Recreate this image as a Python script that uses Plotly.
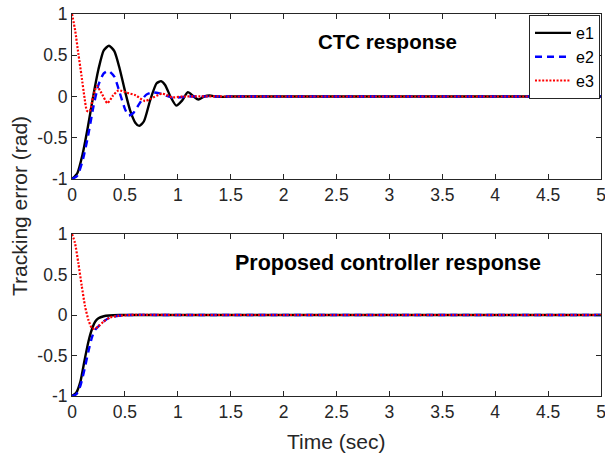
import plotly.graph_objects as go

# ---------------- data ----------------
# Top panel: CTC response
t_ctc_e1 = [0, 0.05, 0.1, 0.15, 0.2, 0.25, 0.3, 0.35, 0.4, 0.45, 0.5, 0.55, 0.6, 0.636,
            0.68, 0.74, 0.8, 0.842, 0.88, 0.93, 0.985, 1.04, 1.095, 1.15, 1.195, 1.25,
            1.3, 1.36, 1.42, 1.5, 2.0, 3.0, 4.0, 5.0]
ctc_e1 = [-1, -0.93, -0.7, -0.37, 0.0, 0.33, 0.56, 0.615, 0.55, 0.34, 0.07, -0.17, -0.32, -0.356,
          -0.3, -0.04, 0.16, 0.186, 0.14, 0.0, -0.11, -0.05, 0.053, 0.0, -0.037, 0.0,
          0.012, 0.0, -0.005, 0.0, 0.0, 0.0, 0.0, 0.0]

t_ctc_e2 = [0, 0.05, 0.1, 0.15, 0.2, 0.25, 0.3, 0.345, 0.4, 0.45, 0.5, 0.535, 0.58, 0.64,
            0.7, 0.76, 0.82, 0.88, 0.95, 1.02, 1.1, 1.5, 2.0, 3.0, 4.0, 5.0]
ctc_e2 = [-1, -0.96, -0.78, -0.49, -0.14, 0.14, 0.28, 0.31, 0.24, 0.05, -0.15, -0.23, -0.2, -0.08,
          0.02, 0.05, 0.04, 0.015, -0.015, -0.01, 0.0, 0.0, 0.0, 0.0, 0.0, 0.0]

t_ctc_e3 = [0, 0.03, 0.06, 0.09, 0.12, 0.14, 0.155, 0.17, 0.2, 0.235, 0.28, 0.335, 0.39,
            0.44, 0.52, 0.6, 0.69, 0.74, 0.85, 0.95, 1.05, 1.5, 2.0, 3.0, 4.0, 5.0]
ctc_e3 = [1, 0.8, 0.52, 0.25, -0.03, -0.17, -0.18, -0.17, 0.0, 0.125, 0.04, -0.08, 0.015,
          0.075, 0.045, 0.015, -0.055, -0.03, 0.035, -0.01, 0.0, 0.0, 0.0, 0.0, 0.0, 0.0]

# Bottom panel: proposed controller response
t_pc_e1 = [0, 0.04, 0.08, 0.12, 0.155, 0.19, 0.22, 0.25, 0.3, 0.35, 0.45, 1.0, 2.0, 3.0, 4.0, 5.0]
pc_e1 = [-1, -0.96, -0.82, -0.55, -0.33, -0.17, -0.08, -0.04, -0.015, -0.006, 0.0, 0.0, 0.0, 0.0, 0.0, 0.0]

t_pc_e2 = [0, 0.04, 0.08, 0.12, 0.155, 0.19, 0.22, 0.25, 0.28, 0.345, 0.44, 0.55, 1.0, 2.0, 3.0, 4.0, 5.0]
pc_e2 = [-1, -0.98, -0.87, -0.66, -0.45, -0.27, -0.18, -0.14, -0.1, -0.04, -0.01, 0.0, 0.0, 0.0, 0.0, 0.0, 0.0]

t_pc_e3 = [0, 0.028, 0.06, 0.092, 0.123, 0.155, 0.187, 0.212, 0.25, 0.3, 0.36, 0.44, 0.55, 1.0, 2.0, 3.0, 4.0, 5.0]
pc_e3 = [1, 0.89, 0.64, 0.36, 0.11, -0.06, -0.16, -0.17, -0.14, -0.08, -0.03, -0.01, 0.0, 0.0, 0.0, 0.0, 0.0, 0.0]

x_ticks = [0, 0.5, 1, 1.5, 2, 2.5, 3, 3.5, 4, 4.5, 5]
x_tick_labels = ["0", "0.5", "1", "1.5", "2", "2.5", "3", "3.5", "4", "4.5", "5"]
y_ticks = [-1, -0.5, 0, 0.5, 1]
y_tick_labels = ["-1", "-0.5", "0", "0.5", "1"]

series_names = ["e1", "e2", "e3"]
panel_titles = ["CTC response", "Proposed controller response"]

# ---------------- styling ----------------
FONT = "Liberation Sans, Arial, sans-serif"
AX = "#262626"
styles = [
    dict(color="#000000", width=2.4, dash="solid"),
    dict(color="#0000ff", width=2.4, dash="7px,5px"),
    dict(color="#ff0000", width=2.2, dash="2px,1.6px"),
]

fig = go.Figure()

top = [(t_ctc_e1, ctc_e1), (t_ctc_e2, ctc_e2), (t_ctc_e3, ctc_e3)]
bot = [(t_pc_e1, pc_e1), (t_pc_e2, pc_e2), (t_pc_e3, pc_e3)]

for i, (tt, yy) in enumerate(top):
    fig.add_trace(go.Scatter(x=tt, y=yy, mode="lines", name=series_names[i],
                             line=dict(shape="spline", smoothing=0.6, simplify=False, **styles[i]),
                             xaxis="x", yaxis="y", showlegend=True,
                             legendgroup=series_names[i]))
for i, (tt, yy) in enumerate(bot):
    fig.add_trace(go.Scatter(x=tt, y=yy, mode="lines", name=series_names[i],
                             line=dict(shape="spline", smoothing=0.6, simplify=False, **styles[i]),
                             xaxis="x2", yaxis="y2", showlegend=False,
                             legendgroup=series_names[i]))

L, R, T, B = 72, 4, 14, 59
W, H = 605, 455
plot_h = H - T - B
top_dom = [(396 - 179) / plot_h, 1.0]
bot_dom = [0.0, (396 - 234) / plot_h]

common_x = dict(range=[0, 5], tickmode="array", tickvals=x_ticks, ticktext=x_tick_labels,
                ticks="inside", ticklen=5, tickcolor=AX, showline=True, linecolor=AX,
                linewidth=1, mirror="ticks", showgrid=False, zeroline=False,
                tickfont=dict(family=FONT, size=17.5, color=AX), automargin=False,
                ticklabeloverflow="allow", domain=[0, 1])
common_y = dict(range=[-1, 1], tickmode="array", tickvals=y_ticks, ticktext=y_tick_labels,
                ticks="inside", ticklen=5, tickcolor=AX, showline=True, linecolor=AX,
                linewidth=1, mirror="ticks", showgrid=False, zeroline=False,
                tickfont=dict(family=FONT, size=17.5, color=AX), automargin=False,
                ticklabeloverflow="allow")

fig.update_layout(
    width=W, height=H,
    margin=dict(l=L, r=R, t=T, b=B, pad=0),
    paper_bgcolor="white", plot_bgcolor="white",
    xaxis=dict(anchor="y", **common_x),
    yaxis=dict(anchor="x", domain=top_dom, **common_y),
    xaxis2=dict(anchor="y2", **common_x),
    yaxis2=dict(anchor="x2", domain=bot_dom, **common_y),
    legend=dict(x=(600 - L) / (W - L - R), xanchor="right",
                y=(396 - 15) / plot_h, yanchor="top",
                bgcolor="white", bordercolor=AX, borderwidth=1,
                font=dict(family=FONT, size=16, color="#000000"),
                itemwidth=36, traceorder="grouped", tracegroupgap=0),
    showlegend=True,
)

pw = W - L - R
fig.add_annotation(text="<b>" + panel_titles[0] + "</b>", xref="paper", yref="paper",
                   x=(387 - L) / pw, y=(396 - 42) / plot_h, showarrow=False,
                   xanchor="center", yanchor="middle",
                   font=dict(family=FONT, size=20.5, color="#000000"))
fig.add_annotation(text="<b>" + panel_titles[1] + "</b>", xref="paper", yref="paper",
                   x=(388 - L) / pw, y=(396 - 263) / plot_h, showarrow=False,
                   xanchor="center", yanchor="middle",
                   font=dict(family=FONT, size=21.5, color="#000000"))
fig.add_annotation(text="Time (sec)", xref="paper", yref="paper",
                   x=(336 - L) / pw, y=(396 - 441) / plot_h, showarrow=False,
                   xanchor="center", yanchor="middle",
                   font=dict(family=FONT, size=21, color=AX))
fig.add_annotation(text="Tracking error (rad)", xref="paper", yref="paper",
                   x=(19 - L) / pw, y=(396 - 206) / plot_h, showarrow=False,
                   xanchor="center", yanchor="middle", textangle=-90,
                   font=dict(family=FONT, size=21, color=AX))

fig.write_html("out.html")
